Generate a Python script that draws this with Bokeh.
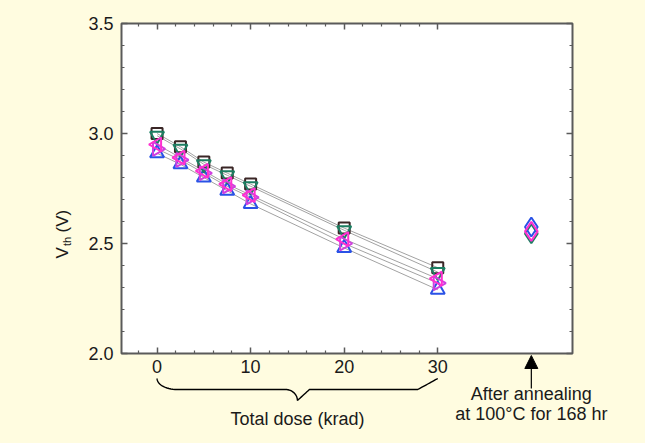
import numpy as np
from bokeh.plotting import figure
from bokeh.models import (FixedTicker, LinearAxis, Label, Arrow, NormalHead, Range1d)
from bokeh.embed import file_html
from bokeh.resources import INLINE

# ---------------- data ----------------
dose = [0, 2.5, 5, 7.5, 10, 20, 30]          # krad
vth_square = [3.00, 2.94, 2.87, 2.82, 2.77, 2.57, 2.39]
vth_invtri = [2.99, 2.93, 2.86, 2.81, 2.76, 2.56, 2.37]
vth_ltri = [2.95, 2.89, 2.83, 2.77, 2.72, 2.52, 2.34]
vth_rtri = [2.93, 2.88, 2.82, 2.76, 2.71, 2.50, 2.32]
vth_tri = [2.91, 2.86, 2.80, 2.74, 2.68, 2.48, 2.29]

anneal_x = 40
anneal_green = 2.545
anneal_blue = 2.575
anneal_magenta = 2.555

x_ticks = [0, 10, 20, 30]
x_minor = [-2, 2, 4, 6, 8, 12, 14, 16, 18, 22, 24, 26, 28]
y_ticks = [2.0, 2.5, 3.0, 3.5]
y_minor = [2.1, 2.2, 2.3, 2.4, 2.6, 2.7, 2.8, 2.9, 3.1, 3.2, 3.3, 3.4]

# plot box (data limits)
BX0, BX1 = -3.8, 44.4
BY0, BY1 = 2.0, 3.5

# ---------------- layout ----------------
BG = "#FFFCE0"
W, H = 645, 443
FL, FR, FT, FB = 121, 572, 23, 353    # plot box edges in canvas pixels
kx = (BX1 - BX0) / (FR - FL)          # data per px
ky = (BY1 - BY0) / (FB - FT)


def fx(px):
    return BX0 + (px - FL) * kx


def fy(py):
    return BY0 + (FB - py) * ky


FONT = "Liberation Sans"
TXT = "#1a1a1a"
AX = "#5a5a5a"

p = figure(width=W, height=H,
           x_range=Range1d(fx(0), fx(W)), y_range=Range1d(fy(H), fy(0)),
           output_backend="svg", toolbar_location=None,
           x_axis_type=None, y_axis_type=None,
           min_border_left=0, min_border_right=0,
           min_border_top=0, min_border_bottom=0)
p.background_fill_color = BG
p.border_fill_color = BG
p.outline_line_color = None
p.xgrid.visible = False
p.ygrid.visible = False

# white plot box with grey frame
p.quad(left=[BX0], right=[BX1], bottom=[BY0], top=[BY1],
       fill_color="white", line_color=AX, line_width=2)


def style_axis(ax, show_labels):
    ax.axis_line_color = None
    ax.major_tick_in = 6
    ax.major_tick_out = 0
    ax.minor_tick_in = 3
    ax.minor_tick_out = 0
    ax.major_tick_line_color = AX
    ax.minor_tick_line_color = AX
    ax.major_tick_line_width = 1.5
    ax.minor_tick_line_width = 1.2
    if show_labels:
        ax.major_label_text_font = FONT
        ax.major_label_text_font_size = "18px"
        ax.major_label_text_color = TXT
    else:
        ax.major_label_text_font_size = "0px"
        ax.major_label_text_color = None
        ax.major_label_standoff = 0


xt = FixedTicker(ticks=x_ticks, minor_ticks=x_minor)
yt = FixedTicker(ticks=y_ticks, minor_ticks=y_minor)

xb = LinearAxis(ticker=xt, fixed_location=BY0)
style_axis(xb, True)
xb.major_label_standoff = 6
p.add_layout(xb, "below")

xa = LinearAxis(ticker=xt, fixed_location=BY1)
style_axis(xa, False)
p.add_layout(xa, "above")

yl = LinearAxis(ticker=yt, fixed_location=BX0)
style_axis(yl, True)
yl.major_label_standoff = 8
yl.major_label_overrides = {2.0: "2.0", 2.5: "2.5", 3.0: "3.0", 3.5: "3.5"}
p.add_layout(yl, "left")

yr = LinearAxis(ticker=yt, fixed_location=BX1)
style_axis(yr, False)
p.add_layout(yr, "right")

# ---------------- series ----------------
series = [vth_square, vth_invtri, vth_ltri, vth_rtri, vth_tri]
for s in series:
    p.line(dose, s, line_color="#a2a2a2", line_width=1)

MS = 14
LW = 2
p.scatter(dose, vth_tri, marker="triangle", size=MS, line_color="#2a52e6",
          fill_color=None, line_width=LW)
p.scatter(dose, vth_square, marker="square", size=MS - 3, line_color="#3a2626",
          fill_color=None, line_width=LW)
p.scatter(dose, vth_invtri, marker="inverted_triangle", size=MS, line_color="#1c7f62",
          fill_color=None, line_width=LW)
p.scatter(dose, vth_rtri, marker="triangle", angle=-np.pi / 2, size=MS,
          line_color="#d040e0", fill_color=None, line_width=LW)
p.scatter(dose, vth_ltri, marker="triangle", angle=np.pi / 2, size=MS,
          line_color="#ff30d0", fill_color=None, line_width=LW)

p.scatter([anneal_x], [anneal_green], marker="diamond", size=MS + 5,
          line_color="#1c7f62", fill_color=None, line_width=LW)
p.scatter([anneal_x], [anneal_blue], marker="diamond", size=MS + 5,
          line_color="#2a52e6", fill_color=None, line_width=LW)
p.scatter([anneal_x], [anneal_magenta], marker="diamond", size=MS + 5,
          line_color="#ff30d0", fill_color=None, line_width=LW)

# ---------------- y-axis title: V_th (V) ----------------
ylab_x = 62
ylab_start = 258
p.add_layout(Label(x=fx(ylab_x), y=fy(ylab_start), text="V", angle=np.pi / 2,
                   text_align="left", text_baseline="middle", text_font=FONT,
                   text_font_size="17px", text_color=TXT))
p.add_layout(Label(x=fx(ylab_x + 4), y=fy(ylab_start - 12.5), text="th", angle=np.pi / 2,
                   text_align="left", text_baseline="middle", text_font=FONT,
                   text_font_size="11px", text_color=TXT))
p.add_layout(Label(x=fx(ylab_x), y=fy(ylab_start - 26), text="(V)", angle=np.pi / 2,
                   text_align="left", text_baseline="middle", text_font=FONT,
                   text_font_size="17px", text_color=TXT))

# ---------------- brace under the dose range ----------------
d0, d1 = min(dose), max(dose)
dm = (d0 + d1) / 2
y_top, y_flat, y_tip = 378, 389, 400   # canvas px
r1, r2 = 20, 12                        # horizontal radii, px
t = np.linspace(0, np.pi / 2, 16)
x0_px = FL + (d0 - BX0) / kx
x1_px = FL + (d1 - BX0) / kx
xm_px = FL + (dm - BX0) / kx
xs_px, ys_px = [], []
xs_px += list(x0_px + r1 - r1 * np.cos(t)); ys_px += list(y_top + (y_flat - y_top) * np.sin(t))
xs_px += list(xm_px - r2 + r2 * np.sin(t)); ys_px += list(y_tip - (y_tip - y_flat) * np.cos(t))
xs_px += list(xm_px + r2 - r2 * np.cos(t)); ys_px += list(y_flat + (y_tip - y_flat) * np.cos(t))
xs_px += list(x1_px - r1 + r1 * np.sin(t)); ys_px += list(y_flat - (y_flat - y_top) * np.sin(t))
p.line([fx(v) for v in xs_px], [fy(v) for v in ys_px], line_color="black", line_width=1.4)

p.add_layout(Label(x=dm, y=fy(418), text="Total dose (krad)", text_align="center",
                   text_baseline="middle", text_font=FONT, text_font_size="18px",
                   text_color=TXT))

# ---------------- annealing arrow + note ----------------
p.add_layout(Arrow(end=NormalHead(size=13, fill_color="black", line_color="black"),
                   x_start=anneal_x, y_start=fy(388), x_end=anneal_x, y_end=fy(355),
                   line_color="black", line_width=1.2))
p.add_layout(Label(x=anneal_x, y=fy(393), text="After annealing", text_align="center",
                   text_baseline="middle", text_font=FONT, text_font_size="18px",
                   text_color=TXT))
p.add_layout(Label(x=anneal_x, y=fy(413), text="at 100°C for 168 hr", text_align="center",
                   text_baseline="middle", text_font=FONT, text_font_size="18px",
                   text_color=TXT))

html = file_html(p, INLINE)
html = html.replace("</head>", "<style>html,body{background:%s;}</style></head>" % BG, 1)
open("out.html", "w").write(html)
